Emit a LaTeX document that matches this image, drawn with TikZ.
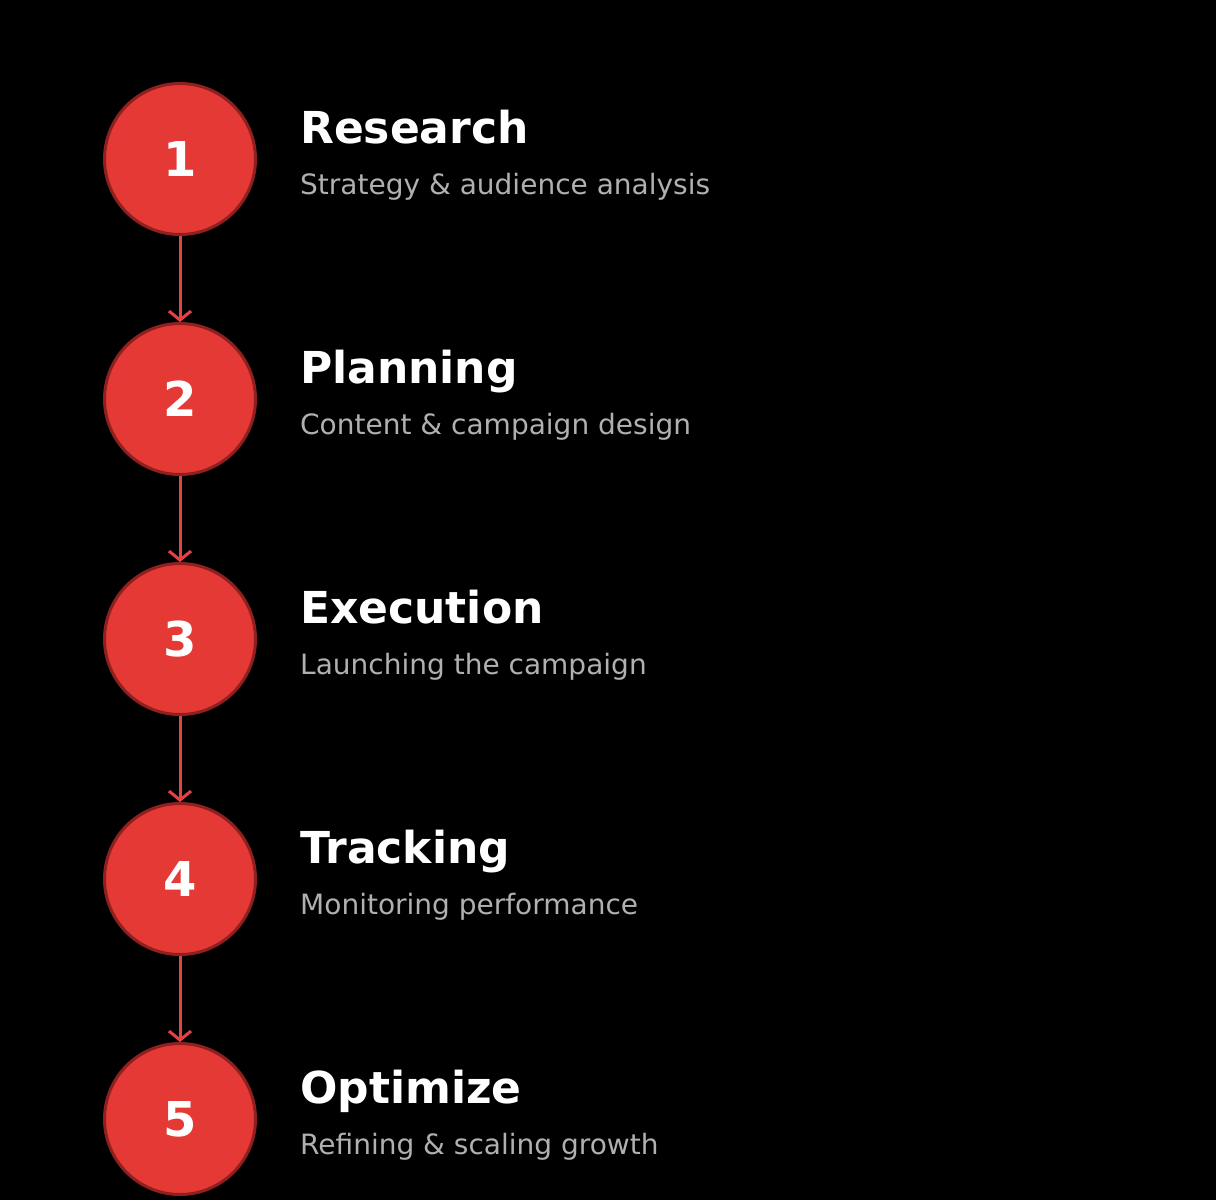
\documentclass[tikz,border=0pt]{standalone}
\usepackage{fontspec}
\setmainfont{DejaVu Sans}
\usetikzlibrary{arrows.meta}
\definecolor{stepfill}{HTML}{E53935}
\definecolor{stepedge}{HTML}{8E2020}
\definecolor{arrowred}{HTML}{E24444}
\definecolor{subgray}{HTML}{B0B0B0}
\tikzset{
  stepcircle/.style={circle, fill=stepfill, draw=stepedge, line width=3pt,
    minimum size=151pt, inner sep=0pt, text=white,
    font=\fontsize{48}{48}\selectfont\bfseries},
  steptitle/.style={anchor=base west, inner sep=0pt, text=white,
    font=\fontsize{44}{44}\selectfont\bfseries},
  stepsub/.style={anchor=base west, inner sep=0pt, text=subgray,
    font=\fontsize{28}{28}\selectfont},
  steparrow/.style={draw=arrowred, line width=3pt,
    -{Straight Barb[length=9pt,width=22pt,line width=3pt]}}
}
\begin{document}
\begin{tikzpicture}[x=1pt,y=-1pt]
\fill[black] (0,0) rectangle (1216,1200);
\useasboundingbox (0,0) rectangle (1216,1200);
\foreach \i/\t/\s [count=\n from 0] in {1/Research/Strategy \& audience analysis,
  2/Planning/Content \& campaign design,
  3/Execution/Launching the campaign,
  4/Tracking/Monitoring performance,
  5/Optimize/Refining \& scaling growth}{
  \pgfmathsetmacro{\cy}{160+240*\n}
  \node[stepcircle] (c\i) at (180,\cy-1) {\i};
  \node[steptitle] (t\i) at (300,\cy-17) {\t};
  \node[stepsub] (s\i) at (300,\cy+34) {\s};
}
\foreach \a/\b in {1/2,2/3,3/4,4/5}{
  \draw[steparrow] (c\a.south) -- (c\b.north);
}
\end{tikzpicture}
\end{document}
